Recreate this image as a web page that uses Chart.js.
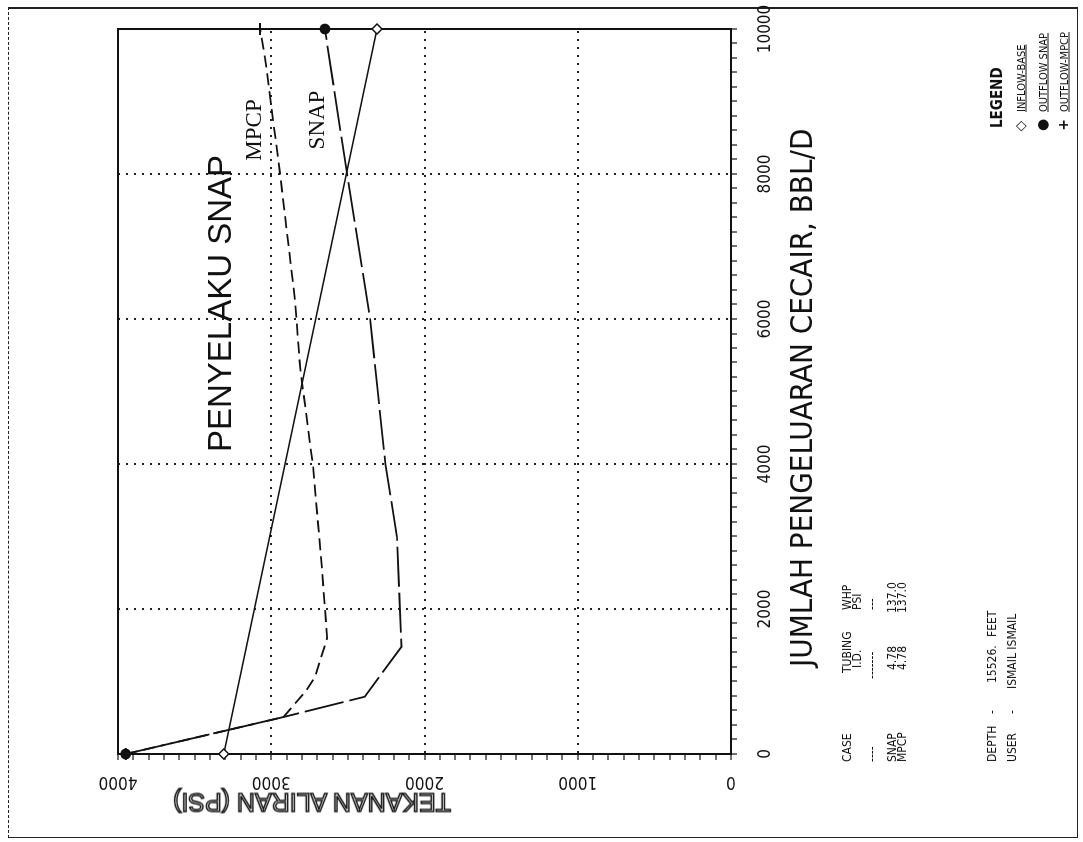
<!DOCTYPE html>
<html>
<head>
<meta charset="utf-8">
<title>Penyelaku SNAP</title>
<script src="https://cdn.jsdelivr.net/npm/chart.js@4.4.1/dist/chart.umd.min.js"></script>
<style>
  html, body { margin: 0; padding: 0; background: #fff; }
  body { width: 1083px; height: 842px; overflow: hidden; position: relative; }
  /* the chart is drawn upright, then the whole sheet is turned a quarter left */
  #page { position: absolute; left: 0; top: 0; width: 842px; height: 1083px;
          transform-origin: 0 0; transform: translate(0, 842px) rotate(-90deg); }
  #wrap { position: absolute; left: 0; top: 0; width: 842px; height: 1083px; }
  #frame { position: absolute; left: 4px; top: 8px; width: 831px; height: 1070px;
           border: 1px solid #222; border-right-width: 2px; border-top-style: dashed; box-sizing: border-box; }
  .txt { position: absolute; line-height: 1; white-space: pre; color: #111; transform: translateY(-50%);
         font-family: "Liberation Sans Narrow", "DejaVu Sans Condensed", "Liberation Sans", sans-serif; }
  .title { font-family: "Liberation Sans", sans-serif; font-size: 33px; }
  .xtitle { font-size: 31px; }
  .ytitle { font-family: "Liberation Sans", sans-serif; font-size: 25px; color: #fff;
            -webkit-text-stroke: 1.5px #111; transform: translate(-50%, -50%) rotate(-90deg); }
  .curve { font-family: "Liberation Serif", serif; font-size: 23px; transform: translate(-50%, -50%); }
  .info { font-size: 12px; }
  .legtitle { font-size: 15px; font-weight: bold; }
  .legtext { font-size: 11px; text-decoration: underline; }
  .sym { font-family: "DejaVu Sans", sans-serif; font-size: 14px; font-weight: bold; transform: translate(-50%, -50%); }
</style>
</head>
<body>
<div id="page">
  <div id="frame"></div>
  <div id="wrap"><canvas id="chart"></canvas></div>
</div>
<script>
// flow rate (BBL/D) on x, flowing pressure (psi) on y
const flowTickLabels = ['0', '2000', '4000', '6000', '8000', '10000'];
const pressureTickLabels = ['0', '1000', '2000', '3000', '4000'];

const inflowRate = [0, 10000];
const inflowPressure = [3310, 2310];

const snapRate = [0, 510, 790, 1480, 3000, 4000, 6000, 8000, 10000];
const snapPressure = [3950, 2920, 2390, 2150, 2180, 2255, 2355, 2505, 2650];

const mpcpRate = [0, 510, 880, 1060, 1600, 2580, 3960, 5340, 6260, 8010, 9610, 10000];
const mpcpPressure = [3950, 2920, 2770, 2715, 2635, 2670, 2727, 2812, 2845, 2943, 3041, 3073];

function toPoints(xs, ys) {
    return xs.map((x, i) => ({ x: x, y: ys[i] }));
}

// markers only at both ends of a curve
function endRadius(r) {
    return ctx => (ctx.dataIndex === 0 || ctx.dataIndex === ctx.dataset.data.length - 1) ? r : 0;
}

const framePlugin = {
    id: 'frame',
    beforeDatasetsDraw(chart) {
        const { ctx, chartArea: a } = chart;
        ctx.save();
        ctx.strokeStyle = '#111';
        ctx.lineWidth = 2;
        ctx.strokeRect(a.left, a.top, a.right - a.left, a.bottom - a.top);
        ctx.restore();
    }
};

const tickFont = { family: '"Liberation Sans Narrow", "DejaVu Sans Condensed", sans-serif', size: 17 };

new Chart(document.getElementById('chart'), {
    type: 'line',
    data: {
        datasets: [{
            label: 'INFLOW-BASE',
            data: toPoints(inflowRate, inflowPressure),
            borderColor: '#111',
            borderWidth: 1.6,
            pointStyle: 'rectRot',
            pointRadius: endRadius(5),
            pointBackgroundColor: '#fff',
            pointBorderColor: '#111',
            pointBorderWidth: 1.5,
            clip: false
        }, {
            label: 'OUTFLOW SNAP',
            data: toPoints(snapRate, snapPressure),
            borderColor: '#111',
            borderWidth: 1.8,
            borderDash: [40, 6],
            pointStyle: 'circle',
            pointRadius: endRadius(4.5),
            pointBackgroundColor: '#111',
            pointBorderColor: '#111',
            clip: false
        }, {
            label: 'OUTFLOW-MPCP',
            data: toPoints(mpcpRate, mpcpPressure),
            borderColor: '#111',
            borderWidth: 1.8,
            borderDash: [12, 6],
            pointStyle: 'cross',
            pointRadius: endRadius(6),
            pointBorderColor: '#111',
            pointBorderWidth: 2,
            clip: false
        }]
    },
    options: {
        responsive: true,
        maintainAspectRatio: false,
        animation: false,
        events: [],
        layout: { autoPadding: false, padding: { top: 118, right: 29, left: 0, bottom: 0 } },
        plugins: { legend: { display: false }, title: { display: false }, tooltip: { enabled: false } },
        scales: {
            x: {
                type: 'linear',
                position: 'bottom',
                min: 0,
                max: 10000,
                afterFit: s => { s.height = 352; s.paddingLeft = 0; s.paddingRight = 0; },
                ticks: {
                    stepSize: 200,
                    autoSkip: false,
                    minRotation: 0,
                    maxRotation: 0,
                    padding: 18,
                    color: '#111',
                    font: tickFont,
                    callback: v => flowTickLabels.includes(String(v)) ? String(v) : ''
                },
                grid: {
                    color: ctx => (ctx.tick && ctx.tick.value > 0 && ctx.tick.value < 10000 &&
                        flowTickLabels.includes(String(ctx.tick.value))) ? '#222' : 'rgba(0,0,0,0)',
                    lineWidth: 2,
                    tickColor: '#111',
                    tickLength: 6,
                    tickWidth: 1.2
                },
                border: { display: true, color: '#111', width: 2, dash: [2, 6] }
            },
            y: {
                type: 'linear',
                position: 'left',
                min: 0,
                max: 4000,
                afterFit: s => { s.width = 88; s.paddingTop = 0; s.paddingBottom = 0; },
                ticks: {
                    stepSize: 100,
                    autoSkip: false,
                    minRotation: 90,
                    maxRotation: 90,
                    crossAlign: 'center',
                    padding: 2,
                    color: '#111',
                    font: tickFont,
                    callback: v => pressureTickLabels.includes(String(v)) ? String(v) : ''
                },
                grid: {
                    color: ctx => (ctx.tick && ctx.tick.value > 0 && ctx.tick.value < 4000 &&
                        pressureTickLabels.includes(String(ctx.tick.value))) ? '#222' : 'rgba(0,0,0,0)',
                    lineWidth: 2,
                    tickColor: '#111',
                    tickLength: 6,
                    tickWidth: 1.2
                },
                border: { display: true, color: '#111', width: 2, dash: [2, 6] }
            }
        }
    },
    plugins: [framePlugin]
});

// texts of the sheet, placed in the upright frame
const page = document.getElementById('page');
function addText(text, x, y, cls) {
    const el = document.createElement('div');
    el.className = 'txt ' + cls;
    el.textContent = text;
    el.style.left = x + 'px';
    el.style.top = y + 'px';
    page.appendChild(el);
}

addText('PENYELAKU SNAP', 390, 219, 'title');
addText('JUMLAH PENGELUARAN CECAIR, BBL/D', 175, 801, 'xtitle');
addText('TEKANAN ALIRAN (PSI)', 40, 312, 'ytitle');
addText('MPCP', 712, 253, 'curve');
addText('SNAP', 722, 316, 'curve');

addText('CASE', 80, 847, 'info');
addText('TUBING', 169, 847, 'info');
addText('WHP', 232, 847, 'info');
addText('I.D.', 174, 857, 'info');
addText('PSI', 232, 857, 'info');
addText('----', 80, 872, 'info');
addText('-------', 163, 872, 'info');
addText('---', 232, 872, 'info');
addText('SNAP', 80, 892, 'info');
addText('4.78', 172, 892, 'info');
addText('137.0', 229, 892, 'info');
addText('MPCP', 80, 902, 'info');
addText('4.78', 172, 902, 'info');
addText('137.0', 229, 902, 'info');
addText('DEPTH', 80, 992, 'info');
addText('-', 128, 992, 'info');
addText('15526.', 159, 992, 'info');
addText('FEET', 205, 992, 'info');
addText('USER', 80, 1012, 'info');
addText('-', 128, 1012, 'info');
addText('ISMAIL ISMAIL', 153, 1012, 'info');

addText('LEGEND', 714, 997, 'legtitle');
addText('\u25C7', 716, 1020, 'sym');
addText('INFLOW-BASE', 730, 1021, 'legtext');
addText('\u25CF', 717, 1042, 'sym');
addText('OUTFLOW SNAP', 730, 1043, 'legtext');
addText('+', 717, 1063, 'sym');
addText('OUTFLOW-MPCP', 730, 1064, 'legtext');
</script>
</body>
</html>
